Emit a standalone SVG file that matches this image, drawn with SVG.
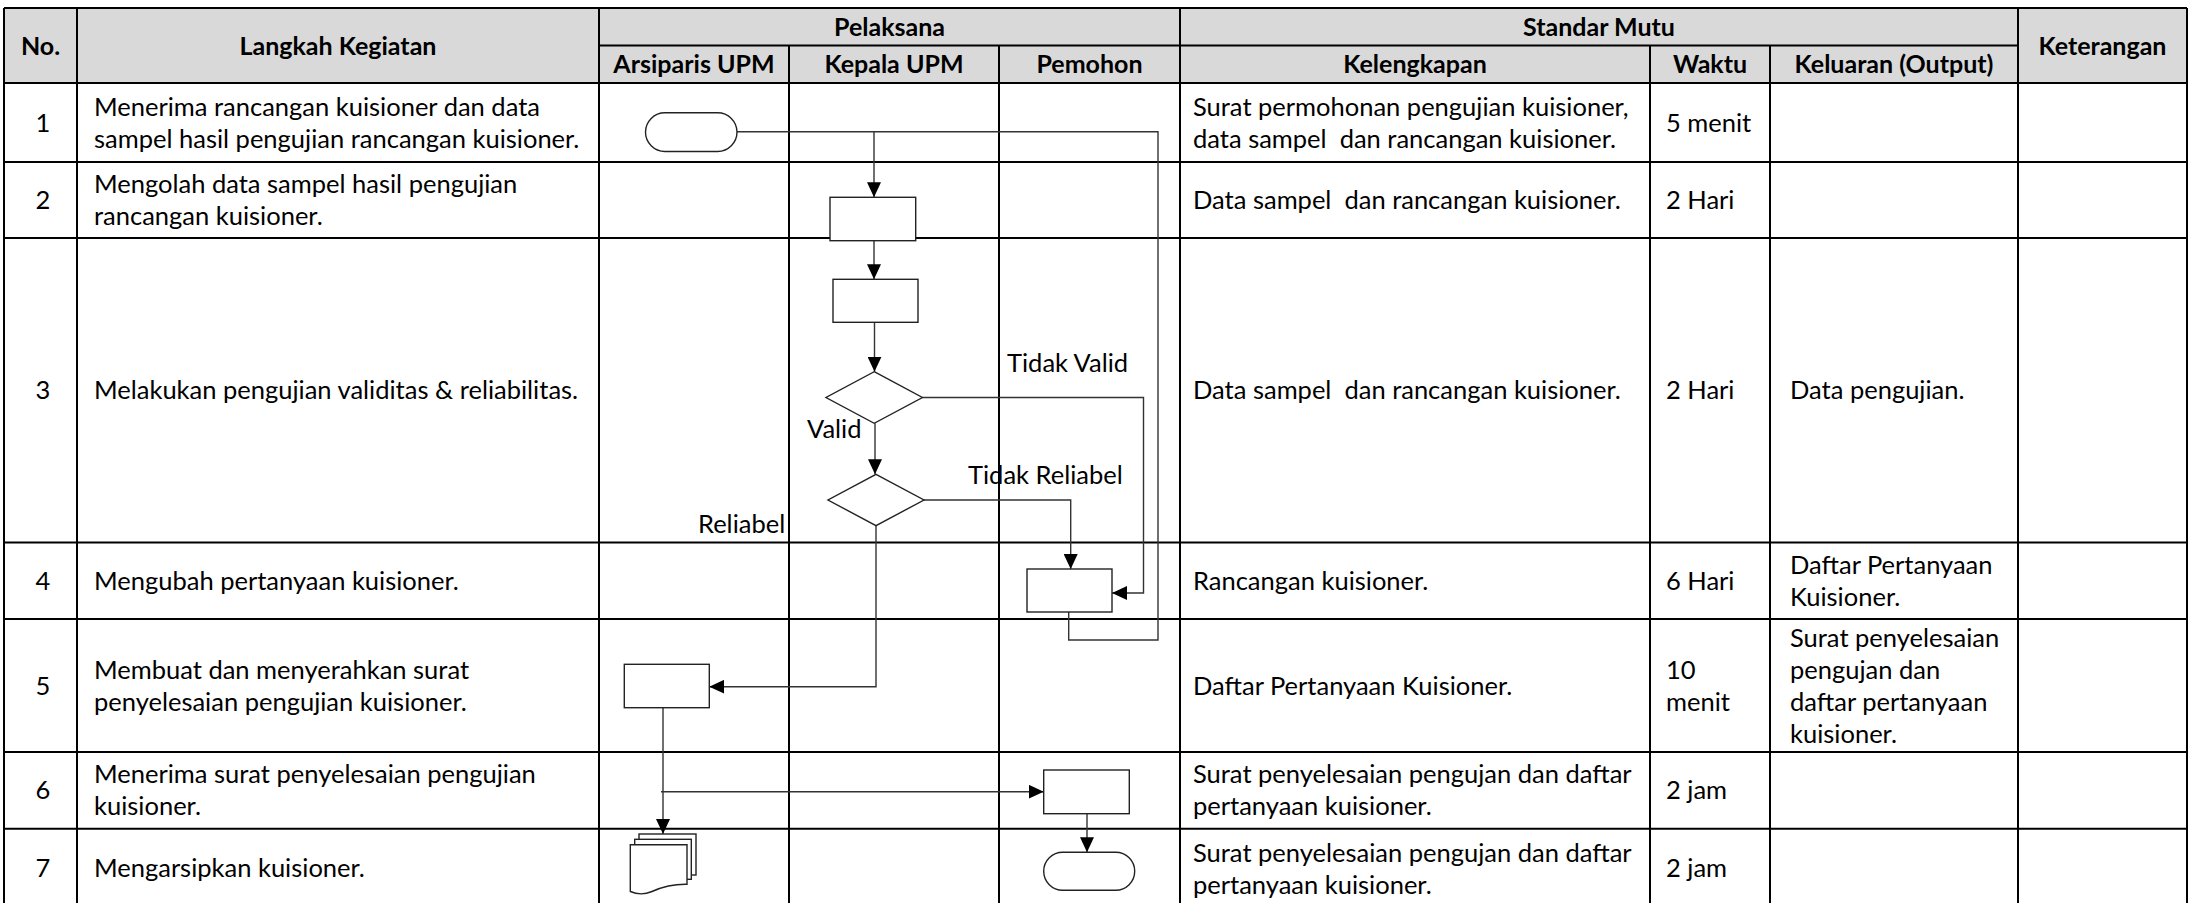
<svg xmlns="http://www.w3.org/2000/svg" width="2190" height="903" viewBox="0 0 2190 903">
<defs>
<style>
text{font-family:Lato,"Liberation Sans",sans-serif;font-size:25.5px;fill:#000;white-space:pre}
.h{font-weight:bold;text-anchor:middle;font-size:25px}
.c{text-anchor:middle}
.grid line{stroke:#000;stroke-width:2}
.shape{fill:#fff;stroke:#222;stroke-width:1.4}
.conn path{fill:none;stroke:#333;stroke-width:1.4}
</style>
<marker id="arr" markerUnits="userSpaceOnUse" markerWidth="16" markerHeight="14" refX="15" refY="7" orient="auto">
<path d="M0,0 L15,7 L0,14 z" fill="#000"/>
</marker>
</defs>
<rect width="2190" height="903" fill="#fff"/>
<g id="header-bg">
<rect x="4" y="8" width="2183" height="75" fill="#d9d9d9"/>
</g>
<g id="grid" class="grid">
<line x1="4" y1="8" x2="2187" y2="8"/>
<line x1="599" y1="45.5" x2="2018" y2="45.5"/>
<line x1="4" y1="83" x2="2187" y2="83"/>
<line x1="4" y1="162" x2="2187" y2="162"/>
<line x1="4" y1="238" x2="2187" y2="238"/>
<line x1="4" y1="542.5" x2="2187" y2="542.5"/>
<line x1="4" y1="619" x2="2187" y2="619"/>
<line x1="4" y1="752" x2="2187" y2="752"/>
<line x1="4" y1="828.7" x2="2187" y2="828.7"/>
<line x1="4" y1="8" x2="4" y2="903"/>
<line x1="77" y1="8" x2="77" y2="903"/>
<line x1="599" y1="8" x2="599" y2="903"/>
<line x1="789" y1="45.5" x2="789" y2="903"/>
<line x1="999" y1="45.5" x2="999" y2="903"/>
<line x1="1180" y1="8" x2="1180" y2="903"/>
<line x1="1650" y1="45.5" x2="1650" y2="903"/>
<line x1="1770" y1="45.5" x2="1770" y2="903"/>
<line x1="2018" y1="8" x2="2018" y2="903"/>
<line x1="2187" y1="8" x2="2187" y2="903"/>
</g>
<g id="headers">
<text class="h" x="40.5" y="54.5">No.</text>
<text class="h" x="338" y="54.5">Langkah Kegiatan</text>
<text class="h" x="889.5" y="35.5">Pelaksana</text>
<text class="h" x="694" y="73">Arsiparis UPM</text>
<text class="h" x="894" y="73">Kepala UPM</text>
<text class="h" x="1089.5" y="73">Pemohon</text>
<text class="h" x="1599" y="35.5">Standar Mutu</text>
<text class="h" x="1415" y="73">Kelengkapan</text>
<text class="h" x="1710" y="73">Waktu</text>
<text class="h" x="1894" y="73">Keluaran (Output)</text>
<text class="h" x="2102.5" y="54.5">Keterangan</text>
</g>
<g id="row1">
<text class="c" x="43" y="131.5">1</text>
<text x="94" y="115.5">Menerima rancangan kuisioner dan data</text>
<text x="94" y="147.5">sampel hasil pengujian rancangan kuisioner.</text>
<text x="1193" y="115.5">Surat permohonan pengujian kuisioner,</text>
<text x="1193" y="147.5">data sampel  dan rancangan kuisioner.</text>
<text x="1666" y="131.5">5 menit</text>
</g>
<g id="row2">
<text class="c" x="43" y="209">2</text>
<text x="94" y="193">Mengolah data sampel hasil pengujian</text>
<text x="94" y="225">rancangan kuisioner.</text>
<text x="1193" y="209">Data sampel  dan rancangan kuisioner.</text>
<text x="1666" y="209">2 Hari</text>
</g>
<g id="row3">
<text class="c" x="43" y="399">3</text>
<text x="94" y="399">Melakukan pengujian validitas &amp; reliabilitas.</text>
<text x="1193" y="399">Data sampel  dan rancangan kuisioner.</text>
<text x="1666" y="399">2 Hari</text>
<text x="1790" y="399">Data pengujian.</text>
</g>
<g id="row4">
<text class="c" x="43" y="590">4</text>
<text x="94" y="590">Mengubah pertanyaan kuisioner.</text>
<text x="1193" y="590">Rancangan kuisioner.</text>
<text x="1666" y="590">6 Hari</text>
<text x="1790" y="574">Daftar Pertanyaan</text>
<text x="1790" y="606">Kuisioner.</text>
</g>
<g id="row5">
<text class="c" x="43" y="694.5">5</text>
<text x="94" y="678.5">Membuat dan menyerahkan surat</text>
<text x="94" y="710.5">penyelesaian pengujian kuisioner.</text>
<text x="1193" y="694.5">Daftar Pertanyaan Kuisioner.</text>
<text x="1666" y="678.5">10</text>
<text x="1666" y="710.5">menit</text>
<text x="1790" y="646.5">Surat penyelesaian</text>
<text x="1790" y="678.5">pengujan dan</text>
<text x="1790" y="710.5">daftar pertanyaan</text>
<text x="1790" y="742.5">kuisioner.</text>
</g>
<g id="row6">
<text class="c" x="43" y="799.3">6</text>
<text x="94" y="783.3">Menerima surat penyelesaian pengujian</text>
<text x="94" y="815.3">kuisioner.</text>
<text x="1193" y="783.3">Surat penyelesaian pengujan dan daftar</text>
<text x="1193" y="815.3">pertanyaan kuisioner.</text>
<text x="1666" y="799.3">2 jam</text>
</g>
<g id="row7">
<text class="c" x="43" y="877.3">7</text>
<text x="94" y="877.3">Mengarsipkan kuisioner.</text>
<text x="1193" y="862">Surat penyelesaian pengujan dan daftar</text>
<text x="1193" y="894">pertanyaan kuisioner.</text>
<text x="1666" y="877.3">2 jam</text>
</g>
<g id="connectors" class="conn">
<path d="M737,131.7 H874 V197.3" marker-end="url(#arr)"/>
<path d="M1068.7,612 V640 H1158 V131.7 H874"/>
<path d="M874,240.7 V279.3" marker-end="url(#arr)"/>
<path d="M874.5,322.3 V371.7" marker-end="url(#arr)"/>
<path d="M875,423.3 V474.3" marker-end="url(#arr)"/>
<path d="M922.4,397.5 H1143.5 V593 H1112" marker-end="url(#arr)"/>
<path d="M924,500 H1070.7 V569" marker-end="url(#arr)"/>
<path d="M876,525.7 V686.7 H709.3" marker-end="url(#arr)"/>
<path d="M663,707.7 V834" marker-end="url(#arr)"/>
<path d="M661,791.7 H1043.7" marker-end="url(#arr)"/>
<path d="M1087,813.7 V852.3" marker-end="url(#arr)"/>
</g>
<g id="labels">
<text x="1007" y="371.7">Tidak Valid</text>
<text x="807" y="438">Valid</text>
<text x="968" y="484">Tidak Reliabel</text>
<text x="698" y="533">Reliabel</text>
</g>
<g id="start1"><rect class="shape" x="645.5" y="112.7" width="91.5" height="38.8" rx="19.4"/></g>
<g id="proc2"><rect class="shape" x="830" y="197.3" width="85.7" height="43.4"/></g>
<g id="proc3"><rect class="shape" x="833" y="279.3" width="85" height="43"/></g>
<g id="dec-valid"><polygon class="shape" points="874.2,371.7 922.4,397.5 874.2,423.3 826,397.5"/></g>
<g id="dec-reliabel"><polygon class="shape" points="876,474.3 924,500 876,525.7 828,500"/></g>
<g id="proc4"><rect class="shape" x="1027" y="569" width="85" height="43"/></g>
<g id="proc5"><rect class="shape" x="624.3" y="664.3" width="85" height="43.4"/></g>
<g id="proc6"><rect class="shape" x="1043.7" y="770" width="85.6" height="43.7"/></g>
<g id="end7"><rect class="shape" x="1043.7" y="852.3" width="91" height="38" rx="19"/></g>
<g id="docs7">
<rect class="shape" x="639" y="834" width="57" height="41"/>
<rect class="shape" x="634.7" y="839.3" width="56.6" height="40"/>
<path class="shape" d="M630.3,844.7 H687 V884.3 C672,884 662,887 652,891.5 C644,895 636,894 630.3,891.5 Z"/>
</g>
</svg>
